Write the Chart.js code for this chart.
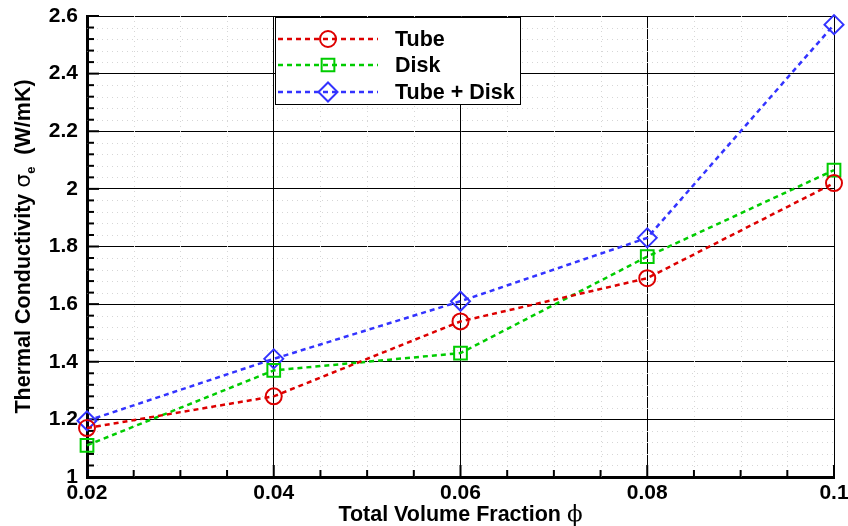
<!DOCTYPE html>
<html>
<head>
<meta charset="utf-8">
<script src="https://cdn.jsdelivr.net/npm/chart.js@4/dist/chart.umd.min.js"></script>
<style>
  html, body { margin: 0; padding: 0; background: #fff; }
  #wrap { width: 848px; height: 526px; }
</style>
</head>
<body>
<div id="wrap"><canvas id="chart" width="848" height="526"></canvas></div>
<script>
// data
const volumeFraction = [0.02, 0.04, 0.06, 0.08, 0.1];
const tubeValues = [1.17, 1.28, 1.54, 1.69, 2.02];
const diskValues = [1.11, 1.37, 1.43, 1.765, 2.065];
const tubeDiskValues = [1.195, 1.41, 1.61, 1.83, 2.57];
const seriesNames = ['Tube', 'Disk', 'Tube + Disk'];

const FONT = '"Liberation Sans", Arial, sans-serif';

function toPoints(ys) {
    return volumeFraction.map((x, i) => ({ x: x, y: ys[i] }));
}

function makeSet(label, values, color, style, radius) {
    return {
        label: label,
        data: toPoints(values),
        borderColor: color,
        backgroundColor: 'rgba(0,0,0,0)',
        borderWidth: 2.5,
        borderDash: [5, 4],
        pointStyle: style,
        pointRadius: radius,
        pointBorderWidth: 2,
        pointBorderColor: color,
        pointBackgroundColor: 'rgba(0,0,0,0)',
        tension: 0,
        clip: false
    };
}

// dotted minor grid + inward ticks
const minorStuff = {
    id: 'minorStuff',
    beforeDatasetsDraw(chart) {
        const { ctx, chartArea: a, scales } = chart;
        const xs = scales.x, ys = scales.y;
        ctx.save();
        ctx.strokeStyle = '#d6d6d6';
        ctx.lineWidth = 1;
        ctx.setLineDash([1, 4]);
        for (let k = 0; k <= 16; k++) {
            if (k % 4 === 0) continue;
            const px = Math.round(xs.getPixelForValue(0.02 + k * 0.005)) + 0.5;
            ctx.beginPath(); ctx.moveTo(px, a.top); ctx.lineTo(px, a.bottom); ctx.stroke();
        }
        for (let k = 0; k <= 40; k++) {
            if (k % 5 === 0) continue;
            const py = Math.round(ys.getPixelForValue(1 + k * 0.04)) + 0.5;
            ctx.beginPath(); ctx.moveTo(a.left, py); ctx.lineTo(a.right, py); ctx.stroke();
        }
        ctx.setLineDash([]);
        ctx.strokeStyle = '#000';
        ctx.lineWidth = 2;
        for (let k = 0; k <= 16; k++) {
            const px = xs.getPixelForValue(0.02 + k * 0.005);
            const len = k % 4 === 0 ? 12 : 7;
            ctx.beginPath(); ctx.moveTo(px, a.bottom); ctx.lineTo(px, a.bottom - len); ctx.stroke();
        }
        for (let k = 0; k <= 40; k++) {
            const py = ys.getPixelForValue(1 + k * 0.04);
            const len = k % 5 === 0 ? 12 : 7;
            ctx.beginPath(); ctx.moveTo(a.left, py); ctx.lineTo(a.left + len, py); ctx.stroke();
        }
        ctx.restore();
    }
};

// axis titles (with subscript) and the boxed legend
const titlesAndLegend = {
    id: 'titlesAndLegend',
    afterDraw(chart) {
        const { ctx, chartArea: a } = chart;
        ctx.save();
        ctx.fillStyle = '#000';
        ctx.textBaseline = 'alphabetic';

        // x title
        const xt1 = 'Total Volume Fraction ';
        ctx.font = 'bold 21.5px ' + FONT;
        const w1 = ctx.measureText(xt1).width;
        ctx.font = '23px "DejaVu Serif", serif';
        const w2 = ctx.measureText('\u03d5').width;
        let sx = (a.left + a.right) / 2 - (w1 + w2) / 2;
        ctx.font = 'bold 21.5px ' + FONT;
        ctx.fillText(xt1, sx, 521);
        ctx.font = '23px "DejaVu Serif", serif';
        ctx.fillText('\u03d5', sx + w1, 521);

        // y title, rotated
        const parts = [
            { t: 'Thermal Conductivity ', f: 'bold 21.5px ' + FONT, dy: 0 },
            { t: '\u03c3', f: '22px "DejaVu Sans", sans-serif', dy: 0 },
            { t: 'e', f: 'bold 13px ' + FONT, dy: 5 },
            { t: '  (W/mK)', f: 'bold 21.5px ' + FONT, dy: 0 }
        ];
        let total = 0;
        parts.forEach(p => { ctx.font = p.f; p.w = ctx.measureText(p.t).width; total += p.w; });
        ctx.translate(30, (a.top + a.bottom) / 2);
        ctx.rotate(-Math.PI / 2);
        let cx = -total / 2;
        parts.forEach(p => { ctx.font = p.f; ctx.fillText(p.t, cx, p.dy); cx += p.w; });
        ctx.restore();

        // legend box
        ctx.save();
        const bx = 275.5, by = 17.5, bw = 245, bh = 87;
        ctx.fillStyle = '#fff';
        ctx.fillRect(bx, by, bw, bh);
        ctx.strokeStyle = '#000';
        ctx.lineWidth = 1;
        ctx.strokeRect(bx, by, bw, bh);
        const rows = [39, 65, 92];
        chart.data.datasets.forEach((ds, i) => {
            const y = rows[i];
            ctx.strokeStyle = ds.borderColor;
            ctx.lineWidth = 2.5;
            ctx.setLineDash(ds.borderDash);
            ctx.beginPath(); ctx.moveTo(278, y); ctx.lineTo(378, y); ctx.stroke();
            ctx.setLineDash([]);
            ctx.lineWidth = 2;
            ctx.fillStyle = 'rgba(0,0,0,0)';
            Chart.helpers.drawPoint(ctx, {
                pointStyle: ds.pointStyle, radius: ds.pointRadius, borderWidth: 2, rotation: 0
            }, 328, y);
            ctx.fillStyle = '#000';
            ctx.font = 'bold 21.5px ' + FONT;
            ctx.textBaseline = 'middle';
            ctx.fillText(seriesNames[i], 395, y + 1);
        });
        ctx.restore();
    }
};

const ctx = document.getElementById('chart').getContext('2d');

new Chart(ctx, {
    type: 'line',
    data: {
        datasets: [
            makeSet(seriesNames[0], tubeValues, '#dd0000', 'circle', 8),
            makeSet(seriesNames[1], diskValues, '#00cc00', 'rect', 9),
            makeSet(seriesNames[2], tubeDiskValues, '#3333ff', 'rectRot', 9.5)
        ]
    },
    options: {
        responsive: false,
        animation: false,
        layout: { padding: { top: 16, right: 14, left: 0, bottom: 0 } },
        plugins: { legend: { display: false }, tooltip: { enabled: false } },
        scales: {
            x: {
                type: 'linear',
                min: 0.02,
                max: 0.1,
                afterFit: s => {
                    s.height = 49;
                    s.paddingLeft = 0; s.paddingRight = 0;
                },
                border: { display: true, color: '#000', width: 3 },
                grid: { color: '#000', lineWidth: 1, drawTicks: false },
                ticks: {
                    stepSize: 0.02,
                    padding: 4,
                    color: '#000',
                    font: { family: FONT, size: 21, weight: 'bold' },
                    maxRotation: 0,
                    callback: v => Number(v.toFixed(2)).toString()
                }
            },
            y: {
                min: 1,
                max: 2.6,
                afterFit: s => {
                    s.width = 87;
                    s.paddingTop = 0; s.paddingBottom = 0;
                },
                border: { display: true, color: '#000', width: 3 },
                grid: { color: '#000', lineWidth: 1, drawTicks: false },
                ticks: {
                    stepSize: 0.2,
                    padding: 9,
                    color: '#000',
                    font: { family: FONT, size: 21, weight: 'bold' },
                    callback: v => Number(v.toFixed(1)).toString()
                }
            }
        }
    },
    plugins: [minorStuff, titlesAndLegend]
});
</script>
</body>
</html>
